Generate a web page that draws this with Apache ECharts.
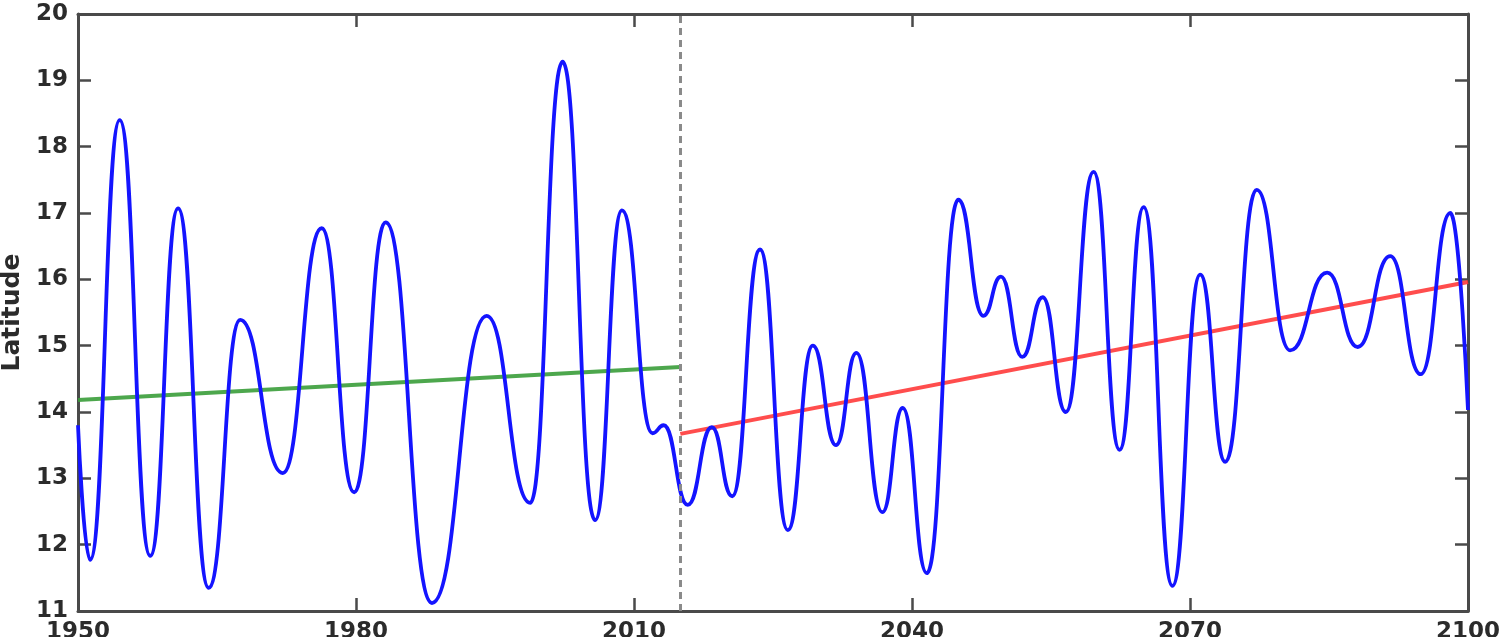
<!DOCTYPE html>
<html>
<head>
<meta charset="utf-8">
<script src="https://cdn.jsdelivr.net/npm/echarts@6/dist/echarts.min.js"></script>
<style>
html,body{margin:0;padding:0;background:#fff;}
#chart{width:1500px;height:637px;}
</style>
</head>
<body>
<div id="chart"></div>
<script>
// Blue series: turning points (year, latitude)
const blueYears = [1950, 1951.3, 1954.5, 1957.8, 1960.8, 1964.1, 1967.5, 1972.1, 1976.3, 1979.8,
  1983.2, 1988.2, 1994.1, 1998.8, 2002.3, 2005.8, 2008.7, 2012.0, 2013.2, 2015.8,
  2018.4, 2020.6, 2023.6, 2026.6, 2029.3, 2031.8, 2034.0, 2036.8, 2039.0, 2041.6,
  2045.0, 2047.7, 2049.6, 2051.9, 2054.1, 2056.6, 2059.6, 2062.4, 2065.0, 2068.1,
  2071.1, 2073.8, 2077.2, 2080.8, 2084.8, 2088.1, 2091.6, 2094.9, 2098.1, 2100];
const blueValues = [13.8, 11.77, 18.4, 11.83, 17.07, 11.35, 15.39, 13.08, 16.77, 12.79,
  16.86, 11.12, 15.45, 12.63, 19.28, 12.37, 17.04, 13.68, 13.8, 12.6,
  13.77, 12.73, 16.45, 12.22, 15.0, 13.5, 14.89, 12.49, 14.06, 11.57,
  17.2, 15.45, 16.04, 14.83, 15.73, 14.0, 17.62, 13.43, 17.09, 11.38,
  16.07, 13.25, 17.35, 14.93, 16.1, 14.98, 16.35, 14.57, 17.0, 14.03];

// Linear trends
const pastTrendYears = [1950, 2015];
const pastTrendValues = [14.18, 14.68];
const futureTrendYears = [2015, 2100];
const futureTrendValues = [13.67, 15.96];

const splitYear = 2015;

const xTicks = [1950, 1980, 2010, 2040, 2070, 2100];
const yTicks = [11, 12, 13, 14, 15, 16, 17, 18, 19, 20];

const zip = (a, b) => a.map((v, i) => [v, b[i]]);

const axisColor = '#4a4a4a';
const labelStyle = {color: '#2b2b2b', fontFamily: 'DejaVu Sans', fontWeight: 'bold', fontSize: 23};

const chart = echarts.init(document.getElementById('chart'), null, {renderer: 'canvas'});
const xBase = {
  type: 'value', min: xTicks[0], max: xTicks[xTicks.length - 1], interval: 30,
  splitLine: {show: false},
  axisLine: {show: true, onZero: false, lineStyle: {color: axisColor, width: 3}},
  axisTick: {show: true, inside: true, length: 13, lineStyle: {color: axisColor, width: 2.5}}
};
const yBase = {
  type: 'value', min: yTicks[0], max: yTicks[yTicks.length - 1], interval: 1,
  splitLine: {show: false},
  axisLine: {show: true, onZero: false, lineStyle: {color: axisColor, width: 3}},
  axisTick: {show: true, inside: true, length: 13, lineStyle: {color: axisColor, width: 2.5}}
};
chart.setOption({
  animation: false,
  backgroundColor: '#ffffff',
  grid: {left: 78, right: 32, top: 14, bottom: 26, containLabel: false, outerBoundsMode: 'none'},
  xAxis: [
    Object.assign({}, xBase, {position: 'bottom',
      axisLabel: Object.assign({show: true, margin: 10, formatter: v => String(v)}, labelStyle)}),
    Object.assign({}, xBase, {position: 'top', axisLabel: {show: false}})
  ],
  yAxis: [
    Object.assign({}, yBase, {position: 'left',
      name: 'Latitude', nameLocation: 'middle', nameGap: 44,
      nameTextStyle: {color: '#2b2b2b', fontFamily: 'DejaVu Sans', fontWeight: 'bold', fontSize: 25},
      axisLabel: Object.assign({show: true, margin: 10, formatter: v => String(v)}, labelStyle)}),
    Object.assign({}, yBase, {position: 'right', axisLabel: {show: false}})
  ],
  series: [
    {
      type: 'line', name: 'past trend', data: zip(pastTrendYears, pastTrendValues),
      showSymbol: false, symbol: 'none',
      lineStyle: {color: '#3a9d3a', width: 4, opacity: 0.9}, z: 3
    },
    {
      type: 'line', name: 'future trend', data: zip(futureTrendYears, futureTrendValues),
      showSymbol: false, symbol: 'none',
      lineStyle: {color: '#ff3a3a', width: 4, opacity: 0.9}, z: 3
    },
    {
      type: 'line', name: 'latitude', data: zip(blueYears, blueValues),
      showSymbol: false, symbol: 'none', smooth: 0.5, smoothMonotone: 'x',
      lineStyle: {color: '#1414ff', width: 3.8}, z: 4,
      markLine: {
        silent: true, symbol: 'none', label: {show: false},
        lineStyle: {color: '#8a8a8a', width: 3, type: [7, 5]},
        data: [{xAxis: splitYear}]
      }
    }
  ]
});
</script>
</body>
</html>
